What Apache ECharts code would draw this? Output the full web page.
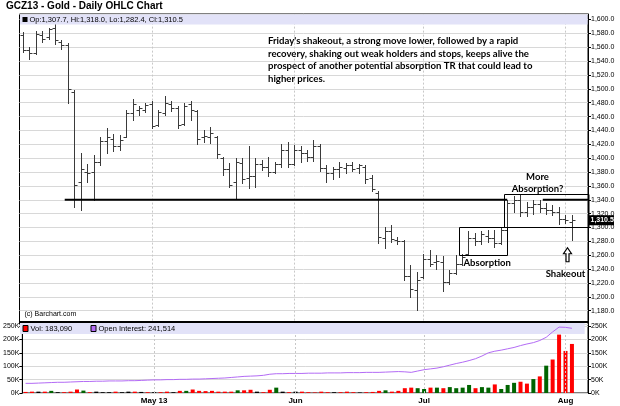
<!DOCTYPE html>
<html><head><meta charset="utf-8">
<script src="https://cdn.jsdelivr.net/npm/echarts@6/dist/echarts.min.js"></script>
<style>html,body{margin:0;padding:0;background:#fff}#c{width:620px;height:406px}</style>
</head><body><div id="c"></div>
<script>
// ---------- DATA ----------
const dates = ['Apr 3','Apr 4','Apr 5','Apr 8','Apr 9','Apr 10','Apr 11','Apr 12','Apr 15','Apr 16','Apr 17','Apr 18','Apr 19','Apr 22','Apr 23','Apr 24','Apr 25','Apr 26','Apr 29','Apr 30',
'May 1','May 2','May 3','May 6','May 7','May 8','May 9','May 10','May 13','May 14','May 15','May 16','May 17','May 20','May 21','May 22','May 23','May 24','May 28','May 29','May 30','May 31',
'Jun 3','Jun 4','Jun 5','Jun 6','Jun 7','Jun 10','Jun 11','Jun 12','Jun 13','Jun 14','Jun 17','Jun 18','Jun 19','Jun 20','Jun 21','Jun 24','Jun 25','Jun 26','Jun 27','Jun 28',
'Jul 1','Jul 2','Jul 3','Jul 5','Jul 8','Jul 9','Jul 10','Jul 11','Jul 12','Jul 15','Jul 16','Jul 17','Jul 18','Jul 19','Jul 22','Jul 23','Jul 24','Jul 25','Jul 26','Jul 29','Jul 30','Jul 31',
'Aug 1','Aug 2'];
const opens  = [1578,1556,1552,1578,1575,1588,1568,1563,1495,1366,1380,1380,1395,1425,1428,1418,1430,1465,1470,1470,
1478,1448,1465,1478,1472,1450,1478,1468,1430,1430,1430,1400,1385,1365,1393,1372,1375,1392,1388,1380,1392,1412,
1392,1412,1408,1402,1418,1386,1378,1384,1386,1390,1386,1388,1372,1350,1285,1295,1282,1280,1230,1210,
1228,1255,1250,1250,1222,1235,1248,1262,1285,1280,1288,1285,1278,1296,1336,1340,1322,1330,1334,1328,1325,1322,
1312,1307.7];
const highs  = [1582,1560,1583,1584,1588,1593,1570,1566,1498,1408,1392,1405,1431,1444,1435,1433,1470,1486,1476,1479,
1482,1470,1490,1482,1476,1480,1482,1470,1440,1445,1432,1402,1393,1400,1400,1417,1400,1397,1402,1395,1421,1424,
1419,1417,1412,1426,1420,1390,1388,1395,1393,1395,1392,1390,1376,1352,1301,1304,1287,1282,1246,1236,
1262,1268,1260,1259,1239,1261,1262,1295,1292,1295,1297,1296,1300,1340,1346,1347,1337,1340,1340,1335,1333,1330,
1318,1318.0];
const lows   = [1553,1543,1550,1568,1572,1565,1557,1479,1330,1325,1365,1340,1390,1408,1410,1412,1430,1455,1462,1466,
1443,1446,1462,1468,1444,1448,1455,1420,1424,1422,1400,1376,1359,1341,1364,1357,1358,1383,1374,1378,1388,1388,
1390,1395,1396,1396,1381,1366,1370,1373,1378,1381,1378,1364,1352,1278,1271,1279,1276,1224,1200,1181,
1227,1244,1240,1208,1218,1233,1246,1260,1275,1276,1279,1272,1276,1295,1322,1316,1316,1320,1322,1320,1318,1305,
1306,1282.4];
const closes = [1556,1552,1579,1572,1586,1570,1564,1500,1362,1385,1378,1395,1425,1430,1418,1426,1465,1478,1472,1477,
1447,1466,1480,1472,1448,1476,1470,1428,1432,1437,1406,1384,1362,1395,1370,1375,1392,1388,1380,1392,1412,1392,
1412,1408,1402,1418,1386,1378,1384,1388,1390,1385,1390,1370,1355,1287,1295,1283,1280,1230,1212,1225,
1255,1248,1252,1222,1235,1248,1257,1285,1280,1290,1285,1278,1296,1335,1340,1322,1330,1334,1328,1325,1322,1312,
1311,1310.5];
const volume = [4000,5000,5000,5000,8000,3000,3000,5000,13000,9000,3000,5000,3000,3000,5000,3000,5000,5000,4000,3000,
3000,3000,5000,3000,8000,8000,13000,8000,7000,8000,5000,5000,5000,10000,10000,12000,5000,3000,12000,20000,5000,3000,
5000,5000,3000,2000,5000,3000,3000,3000,5000,3000,2000,3000,4000,8000,10000,5000,8000,18000,20000,18000,
15000,20000,20000,18000,22000,18000,20000,30000,18000,22000,20000,32000,15000,30000,38000,42000,35000,52000,62000,102000,125000,218000,
157000,183090];
const volDir = ['d','d','n','d','u','n','d','d','d','u','d','n','n','n','d','n','n','d','n','d',
'n','d','d','n','d','u','d','d','d','d','d','d','d','u','d','d','n','d','d','u','n','d',
'n','d','d','d','d','d','n','d','d','d','n','d','d','d','u','d','d','d','d','u',
'u','d','u','d','u','u','u','u','d','u','u','d','u','u','u','d','d','u','d','u','d','d',
'd','d'];
const openInterest = [36000,36000,37000,38000,39000,40000,40000,41000,42000,43000,43000,44000,44000,45000,45000,45000,46000,46000,47000,48000,
49000,49000,50000,50000,51000,51000,52000,52000,53000,54000,55000,56000,58000,60000,62000,63000,64000,66000,70000,72000,72000,73000,
73000,73000,74000,74000,74000,75000,75000,75000,76000,76000,76000,77000,77000,77000,78000,79000,80000,79000,77000,82000,
87000,90000,93000,98000,104000,110000,115000,121000,128000,138000,150000,156000,160000,165000,170000,177000,183000,188000,196000,208000,228000,246000,
245000,241514];
const tickDates  = ['May 1','Jun 3','Jul 1','Aug 1'];
const tickLabels = ['May 13','Jun','Jul','Aug'];
const supportLevel = 1340;
const absorptionBox = {from:'Jul 10', to:'Jul 19', hi:1301, lo:1260};
const moreBox = {from:'Jul 19', hi:1348, lo:1300};
const noteLines = ["Friday's shakeout, a strong move lower, followed by a rapid",
"recovery, shaking out weak holders and stops, keeps alive the",
"prospect of another potential absorption TR that could lead to",
"higher prices."];

// ---------- HELPERS ----------
function fmt(v, dec){ const s = v.toFixed(dec); const p = s.split('.'); p[0] = p[0].replace(/\B(?=(\d{3})+(?!\d))/g, ','); return p.join('.'); }
const cats = dates.concat([' ', '  ']);
const ohlc = dates.map((d,i)=>[i, opens[i], highs[i], lows[i], closes[i]]);
const dirColor = {u:'#006400', d:'#ff0000', n:'#000000'};
const FONT = 'Liberation Sans, Arial, sans-serif';
const vlines = { silent:true, symbol:'none', label:{show:false}, lineStyle:{color:'#c8c8c8', type:[2,2], width:1}, data: tickDates.map(d=>({xAxis:d})) };

const chart = echarts.init(document.getElementById('c'));
const option = {
  animation:false,
  backgroundColor:'#fff',
  grid:[
    {left:19.5, width:568.5, top:14, height:310.6, show:true, borderColor:'#000', borderWidth:1, backgroundColor:'#fff'},
    {left:19.5, width:568.5, top:322, height:71, show:true, borderColor:'#000', borderWidth:1, backgroundColor:'#fff'}
  ],
  xAxis:[
    {type:'category', gridIndex:0, data:cats, boundaryGap:true, axisLine:{show:false}, axisTick:{show:false}, axisLabel:{show:false}, splitLine:{show:false}},
    {type:'category', gridIndex:1, data:cats, boundaryGap:true, axisLine:{show:false}, axisTick:{show:false}, splitLine:{show:false},
     axisLabel:{show:true, interval:(i,v)=>tickDates.indexOf(v)>=0, formatter:v=>tickLabels[tickDates.indexOf(v)]||'', fontFamily:FONT, fontSize:8, fontWeight:'bold', color:'#000', margin:4}}
  ],
  yAxis:[
    {type:'value', gridIndex:0, position:'right', min:1160, max:1608, interval:20,
     axisLine:{show:true, lineStyle:{color:'#000'}}, axisTick:{show:true, length:3, lineStyle:{color:'#000'}},
     axisLabel:{formatter:v=>fmt(v,1), fontFamily:FONT, fontSize:7, color:'#000', margin:3, showMinLabel:false, showMaxLabel:false},
     splitLine:{show:true, lineStyle:{color:'#d8d8d8', width:1}}},
    {type:'value', gridIndex:1, position:'right', min:0, max:265000, interval:50000,
     axisLine:{show:true, lineStyle:{color:'#000'}}, axisTick:{show:true, length:3, lineStyle:{color:'#000'}},
     axisLabel:{formatter:v=>(v/1000)+'K', fontFamily:FONT, fontSize:7, color:'#000', margin:3, showMaxLabel:false},
     splitLine:{show:true, lineStyle:{color:'#d8d8d8', width:1}}},
    {type:'value', gridIndex:1, position:'left', min:0, max:265000, interval:50000,
     axisLine:{show:true, lineStyle:{color:'#000'}}, axisTick:{show:true, length:3, lineStyle:{color:'#000'}},
     axisLabel:{formatter:v=>(v/1000)+'K', fontFamily:FONT, fontSize:7, color:'#000', margin:3, showMaxLabel:false},
     splitLine:{show:false}}
  ],
  series:[
    {type:'custom', xAxisIndex:0, yAxisIndex:0, data:ohlc, encode:{x:0, y:[1,2,3,4]}, z:5,
     renderItem:(params, api)=>{
       const k = api.value(0);
       const o = api.coord([k, api.value(1)]), h = api.coord([k, api.value(2)]), l = api.coord([k, api.value(3)]), c = api.coord([k, api.value(4)]);
       const x = Math.round(h[0]) + 0.5;
       const w = 3;
       const st = {stroke:'#3a3a3a', lineWidth:1};
       return {type:'group', children:[
         {type:'line', shape:{x1:x, y1:Math.round(h[1]), x2:x, y2:Math.round(l[1])+1}, style:st},
         {type:'line', shape:{x1:x-w, y1:Math.round(o[1])+0.5, x2:x, y2:Math.round(o[1])+0.5}, style:st},
         {type:'line', shape:{x1:x, y1:Math.round(c[1])+0.5, x2:x+w, y2:Math.round(c[1])+0.5}, style:st}
       ]};
     },
     markLine: vlines},
    {type:'bar', xAxisIndex:1, yAxisIndex:1, barWidth:4, z:3,
     data: volume.map((v,i)=>({value:v, itemStyle:{color:dirColor[volDir[i]], borderWidth:0}})),
     markLine: vlines},
    {type:'line', xAxisIndex:1, yAxisIndex:1, data:openInterest, symbol:'none', z:17,
     lineStyle:{color:'#b36bf5', width:1}}
  ]
};
chart.setOption(option);

// ---------- ANNOTATIONS (positioned through the chart's own scales) ----------
const P = (d, p) => chart.convertToPixel({xAxisIndex:0, yAxisIndex:0}, [typeof d === 'string' ? dates.indexOf(d) : d, p]);
const band = P(1, 1300)[0] - P(0, 1300)[0];
const r0 = chart.getModel().getComponent('grid', 0).coordinateSystem.getRect();
const r1 = chart.getModel().getComponent('grid', 1).coordinateSystem.getRect();
const L = r0.x, R = r0.x + r0.width;
const ySup = P(0, supportLevel)[1];
const last = dates.length - 1;
const g = [];
const txt = (x, y, s, o) => g.push(Object.assign({type:'text', x, y, style:Object.assign({text:s, fill:'#000', font:'8px '+FONT, textVerticalAlign:'middle'}, o||{}), z:20}));
// title
txt(6, 6, 'GCZ13 - Gold - Daily OHLC Chart', {font:'bold 10px '+FONT});
// price header band
g.push({type:'rect', shape:{x:L+0.5, y:r0.y+0.5, width:r0.width-1, height:10}, style:{fill:'#e2e2f8'}, z:15});
g.push({type:'rect', shape:{x:L+3, y:r0.y+3, width:5, height:5}, style:{fill:'#000'}, z:16});
txt(L+10, r0.y+6, 'Op:'+fmt(opens[last],1)+', Hi:'+fmt(highs[last],1)+', Lo:'+fmt(lows[last],1)+', Cl:'+fmt(closes[last],1), {font:'7.5px '+FONT});
// volume header band
g.push({type:'rect', shape:{x:L+0.5, y:r1.y+1, width:r1.width-1, height:11}, style:{fill:'#e2e2f8'}, z:15});
g.push({type:'line', shape:{x1:L, y1:r1.y, x2:R, y2:r1.y}, style:{stroke:'#000', lineWidth:2}, z:16});
g.push({type:'rect', shape:{x:L+3.5, y:r1.y+3.5, width:5, height:6}, style:{fill:'#ff0000', stroke:'#000', lineWidth:1}, z:16});
txt(L+11, r1.y+7, 'Vol: '+fmt(volume[last],0), {font:'7.5px '+FONT});
g.push({type:'rect', shape:{x:L+71.5, y:r1.y+3.5, width:5, height:6}, style:{fill:'#b36bf5', stroke:'#000', lineWidth:1}, z:16});
txt(L+79, r1.y+7, 'Open Interest: '+fmt(openInterest[last],0), {font:'7.5px '+FONT});
// copyright
txt(L+5, r0.y+r0.height-11, '(c) Barchart.com', {font:'7px '+FONT});
// note
noteLines.forEach((s,i)=>txt(268, 41 + i*12.6, s, {font:'bold 9.6px Lato, '+FONT}));
// support line in two pieces
const xa = P('Apr 12', supportLevel)[0] - band/2;
const xb = P('Jul 19', supportLevel)[0];
const xc = P('Jul 26', supportLevel)[0] + band/2;
g.push({type:'line', shape:{x1:xa, y1:ySup, x2:xb, y2:ySup}, style:{stroke:'#000', lineWidth:2}, z:10});
g.push({type:'line', shape:{x1:xc, y1:ySup, x2:R, y2:ySup}, style:{stroke:'#000', lineWidth:2}, z:10});
// boxes
const a1 = P(absorptionBox.from, absorptionBox.hi), a2 = P(absorptionBox.to, absorptionBox.lo);
const ax1 = Math.round(a1[0] - band/2) + 0.5, ax2 = Math.round(a2[0]) + 0.5;
g.push({type:'rect', shape:{x:ax1, y:Math.round(a1[1])+0.5, width:ax2-ax1, height:Math.round(a2[1]-a1[1])}, style:{fill:'none', stroke:'#000', lineWidth:1}, z:11});
const m1 = P(moreBox.from, moreBox.hi), m2 = P(moreBox.from, moreBox.lo);
const mx1 = Math.round(m1[0] - band/2) + 0.5;
g.push({type:'rect', shape:{x:mx1, y:Math.round(m1[1])+0.5, width:R+1-mx1, height:Math.round(m2[1]-m1[1])}, style:{fill:'none', stroke:'#000', lineWidth:1}, z:11});
txt(ax1+4, a2[1]+8, 'Absorption', {font:'bold 9.5px Lato, '+FONT});
txt(mx1+33, m1[1]-17, 'More', {font:'bold 9.5px Lato, '+FONT, textAlign:'center'});
txt(mx1+33, m1[1]-5, 'Absorption?', {font:'bold 9.5px Lato, '+FONT, textAlign:'center'});
// arrow under last bar
const lb = P(last, lows[last]);
const cx = Math.round(lb[0]) - 4.5, ty = lb[1] + 8;
g.push({type:'polygon', shape:{points:[[cx,ty],[cx+4,ty+6],[cx+1.5,ty+6],[cx+1.5,ty+14],[cx-1.5,ty+14],[cx-1.5,ty+6],[cx-4,ty+6]]}, style:{fill:'#fff', stroke:'#000', lineWidth:1.2}, z:12});
txt(cx-2, ty+26, 'Shakeout', {font:'bold 9.5px Lato, '+FONT, textAlign:'center'});
// last price tag
const yl = P(last, closes[last])[1];
g.push({type:'rect', shape:{x:R+1, y:yl-5, width:25, height:10}, style:{fill:'#000'}, z:18});
txt(R+2.5, yl, fmt(closes[last],1), {font:'bold 7px '+FONT, fill:'#fff'});
chart.setOption({graphic:g});
</script></body></html>
